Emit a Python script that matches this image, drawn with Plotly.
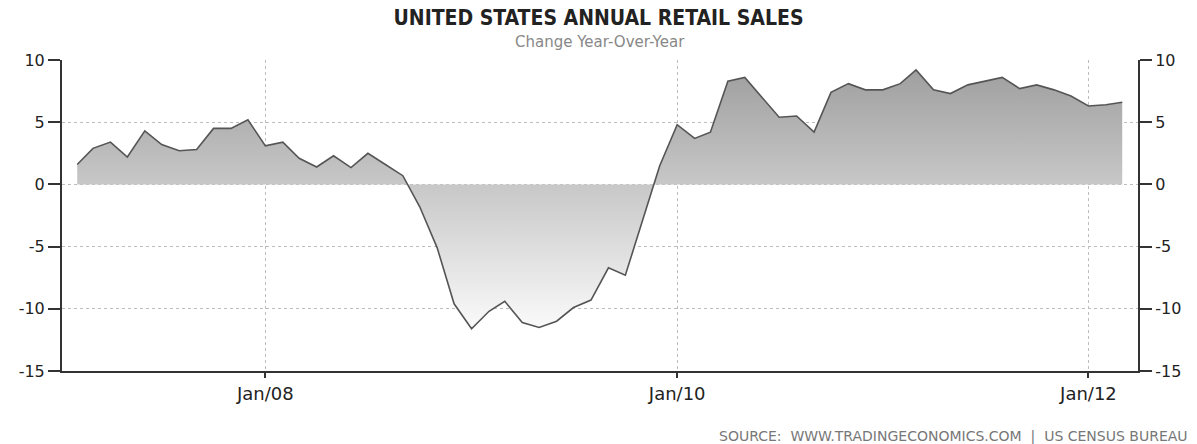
import pandas as pd
import plotly.graph_objects as go

# Monthly, Feb 2007 .. Mar 2012
MESES = pd.date_range("2007-02-01", periods=62, freq="MS")

VENTAS = [
    # 2007 (Feb-Dec)
    1.6, 2.9, 3.4, 2.2, 4.3, 3.2, 2.7, 2.8, 4.5, 4.5, 5.2,
    # 2008
    3.1, 3.4, 2.1, 1.4, 2.3, 1.35, 2.5, 1.6, 0.7, -1.8, -5.1, -9.6,
    # 2009
    -11.6, -10.2, -9.4, -11.1, -11.5, -11.0, -9.9, -9.3, -6.7, -7.3, -2.8, 1.5,
    # 2010
    4.8, 3.7, 4.2, 8.3, 8.6, 7.0, 5.4, 5.5, 4.2, 7.4, 8.1, 7.6,
    # 2011
    7.6, 8.1, 9.2, 7.6, 7.3, 8.0, 8.3, 8.6, 7.7, 8.0, 7.6, 7.1,
    # 2012 (Jan-Mar)
    6.3, 6.4, 6.6,
]

TICKS_X = ["2008-01-01", "2010-01-01", "2012-01-01"]
TICKS_Y = [10, 5, 0, -5, -10, -15]
ETIQ_Y = ["10", "5", "0", "-5", "-10", "-15"]

FUENTE_COND = "DejaVu Sans Condensed, Liberation Sans Narrow, sans-serif"
FUENTE = "DejaVu Sans, Verdana, sans-serif"
GRIS_GRID = "#bdbdbd"
NEGRO = "#222222"

fig = go.Figure()

fig.add_trace(go.Scatter(
    x=MESES, y=VENTAS,
    mode="lines",
    line=dict(color="#555555", width=1.6),
    fill="tozeroy",
    fillgradient=dict(
        type="vertical",
        start=-11.8, stop=9.5,
        colorscale=[[0, "#fbfbfb"], [1, "#9e9e9e"]],
    ),
    hovertemplate="%{x|%b %Y}: %{y}<extra></extra>",
    showlegend=False,
))

# eje derecho (duplicado)
fig.add_trace(go.Scatter(
    x=MESES, y=VENTAS, yaxis="y2", mode="lines",
    line=dict(width=0), opacity=0, hoverinfo="skip", showlegend=False,
))

eje_y = dict(
    range=[-15, 10],
    tickvals=TICKS_Y, ticktext=ETIQ_Y,
    showgrid=True, gridcolor=GRIS_GRID, griddash="dot", gridwidth=1,
    zeroline=False,
    showline=True, linecolor="#333333", linewidth=2,
    ticks="outside", ticklen=12, tickwidth=2, tickcolor="#333333",
    tickfont=dict(family=FUENTE, size=16, color=NEGRO),
)

fig.update_layout(
    width=1197, height=444,
    paper_bgcolor="white", plot_bgcolor="white",
    margin=dict(l=62, r=59, t=60, b=73),
    title=dict(
        text="<b>UNITED STATES ANNUAL RETAIL SALES</b>",
        x=0.5, xanchor="center", y=1 - 18 / 444, yanchor="middle",
        font=dict(family=FUENTE_COND, size=21, color=NEGRO),
    ),
    xaxis=dict(
        range=["2007-01-05", "2012-03-29"],
        tickvals=TICKS_X, tickformat="%b/%y",
        showgrid=True, gridcolor=GRIS_GRID, griddash="dot", gridwidth=1,
        showline=True, linecolor="#333333", linewidth=2,
        ticks="outside", ticklen=5, tickwidth=2, tickcolor="#333333",
        tickfont=dict(family=FUENTE, size=18, color=NEGRO),
    ),
    yaxis=dict(side="left", **eje_y),
    yaxis2=dict(side="right", overlaying="y", matches="y", **eje_y),
    annotations=[
        dict(text="Change Year-Over-Year",
             x=0.5, xref="paper", xanchor="center",
             y=1.058, yref="paper", yanchor="middle",
             showarrow=False, font=dict(family=FUENTE, size=15, color="#888888")),
        dict(text="SOURCE:  WWW.TRADINGECONOMICS.COM  |  US CENSUS BUREAU",
             x=1.048, xref="paper", xanchor="right",
             y=-0.212, yref="paper", yanchor="middle",
             showarrow=False, font=dict(family=FUENTE, size=14, color="#777777")),
    ],
)

fig.write_html(
    "out.html",
    config={"displayModeBar": False},
    post_script="document.body.style.margin='0';",
)
